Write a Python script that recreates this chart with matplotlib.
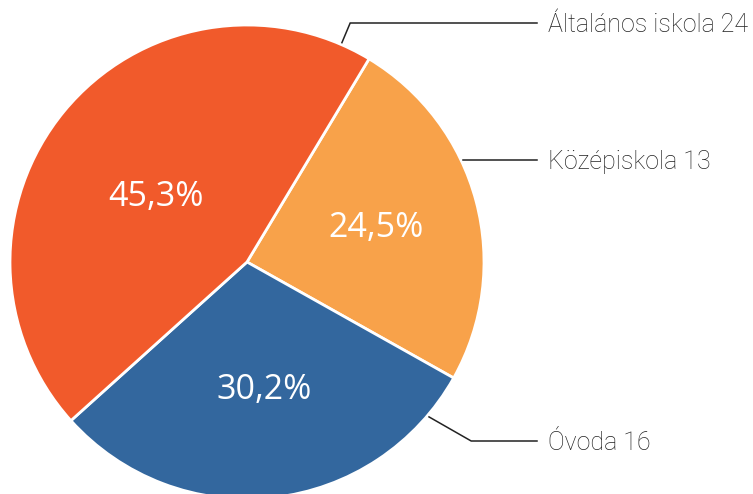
import numpy as np
import matplotlib
matplotlib.use("Agg")
import matplotlib.pyplot as plt

# data
categories = ["Általános iskola", "Középiskola", "Óvoda"]
counts = [24, 13, 16]
pct_labels = ["45,3%", "24,5%", "30,2%"]
colors = ["#F15A2B", "#F8A24A", "#33679E"]

W, H = 753, 494
cx, cy, R = 247, H - 262, 237

fig = plt.figure(figsize=(W / 100, H / 100), dpi=100)
ax = fig.add_axes([0, 0, 1, 1])

# clockwise from the top-right boundary: Középiskola, Óvoda, then Általános iskola
order = [1, 2, 0]
wedges, _ = ax.pie([counts[i] for i in order], colors=[colors[i] for i in order],
                   startangle=59.0, counterclock=False, center=(cx, cy), radius=R,
                   wedgeprops=dict(edgecolor="white", linewidth=2))
ax.set_xlim(0, W)
ax.set_ylim(0, H)
ax.set_aspect("equal")
ax.axis("off")

# percentage labels inside the wedges (radius fraction, angle nudge)
rfrac = {0: 0.47, 1: 0.565, 2: 0.545}
nudge = {0: 4.0, 1: 0.0, 2: 1.2}
for w, i in zip(wedges, order):
    mid = np.deg2rad((w.theta1 + w.theta2) / 2 + nudge[i])
    r = R * rfrac[i]
    ax.text(cx + r * np.cos(mid), cy + r * np.sin(mid), pct_labels[i],
            color="white", fontsize=24.5, ha="center", va="center",
            family=["Open Sans", "DejaVu Sans"])

# outside labels with leader lines
anchor_deg = [66.6, 25.2, -40.4]
elbow_y = [H - 23, H - 160, H - 441]
text_x, line_end = 548, 537
for i, cat in enumerate(categories):
    a = np.deg2rad(anchor_deg[i])
    x0, y0 = cx + (R + 2) * np.cos(a), cy + (R + 2) * np.sin(a)
    ey = elbow_y[i]
    if abs(ey - y0) > 3:
        ex = x0 + (ey - y0) * (0.42 if ey > y0 else -1.75)
    else:
        ex, ey = x0, y0
    ax.plot([x0, ex, line_end], [y0, ey, ey], color="#222222", lw=1.1,
            solid_joinstyle="miter")
    ax.text(text_x, ey - 2, f"{cat} {counts[i]}", fontsize=18, color="#222222",
            ha="left", va="center", fontweight="light",
            family=["Roboto", "DejaVu Sans"])

fig.savefig("out.png", dpi=100)
